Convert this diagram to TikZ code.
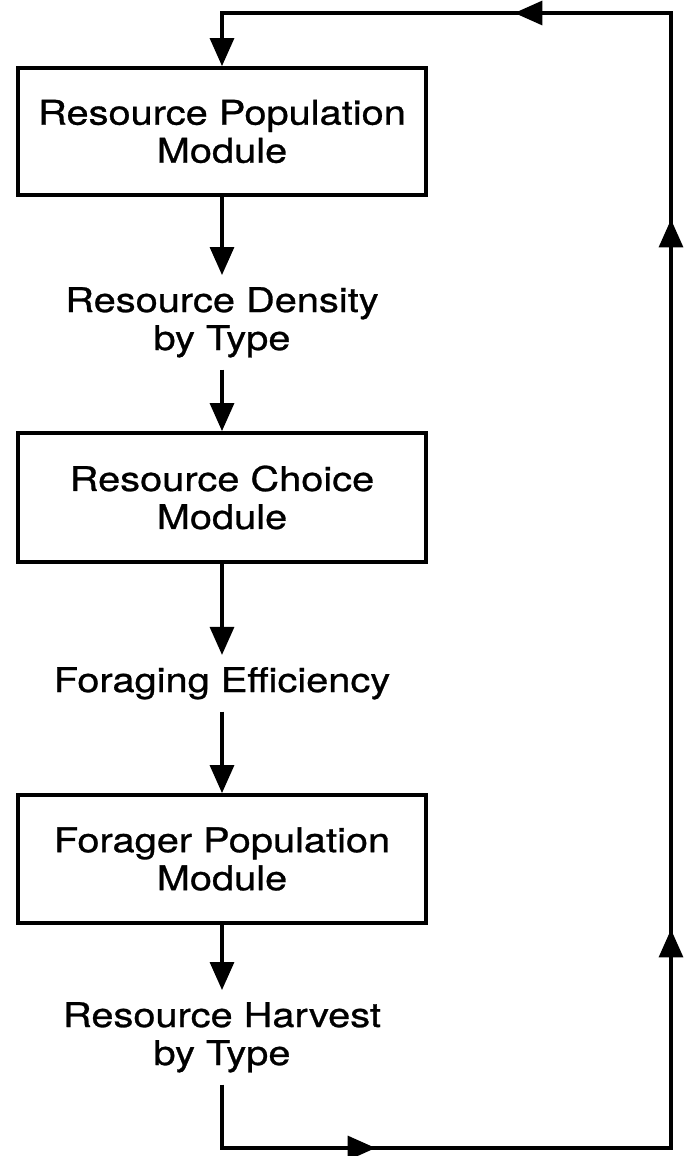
\documentclass[tikz,border=0pt]{standalone}
\usepackage{fontspec}
\setmainfont{TeX Gyre Heros}[FakeStretch=1.17,FakeBold=0.8]
\usetikzlibrary{arrows.meta,decorations.markings}
\tikzset{bigtip/.tip={Triangle[length=28pt,width=24pt]}}
\begin{document}
\begin{tikzpicture}[x=1pt,y=-1pt,
  txt/.style={font=\fontsize{34}{38}\selectfont},
  box/.style={txt,draw,line width=3.8pt,minimum width=408pt,inner sep=0pt,align=center},
  lbl/.style={txt,align=center,inner xsep=0pt,inner ysep=12pt},
  conn/.style={line width=3.2pt,-bigtip},
]
\useasboundingbox (0,0) rectangle (685,1156);
\node[box,minimum height=127pt] (b1) at (222,131.5) {Resource Population\\Module};
\node[lbl,anchor=base] (t1) at (222,350) {Resource Density\\by Type};
\node[box,minimum height=129pt] (b2) at (222,497.5) {Resource Choice\\Module};
\node[lbl,anchor=base] (t2) at (222,692) {Foraging Efficiency};
\node[box,minimum height=128pt] (b3) at (222,859) {Forager Population\\Module};
\node[lbl,anchor=base] (t3) at (222,1065) {Resource Harvest\\by Type};
\coordinate (cbr) at (671,1148);
\coordinate (ctr) at (671,13);
\draw[conn] (b1.south) -- (t1.north);
\draw[conn] (t1.south) -- (b2.north);
\draw[conn] (b2.south) -- (t2.north);
\draw[conn] (t2.south) -- (b3.north);
\draw[conn] (b3.south) -- (t3.north);
\draw[conn,postaction={decorate},decoration={markings,
    mark=at position 217pt with {\arrow{bigtip}},
    mark=at position 731pt with {\arrow{bigtip}},
    mark=at position 1441pt with {\arrow{bigtip}},
    mark=at position 1804pt with {\arrow{bigtip}}}]
  (t3.south) |- (cbr) -- (ctr) -| (b1.north);
\end{tikzpicture}
\end{document}
